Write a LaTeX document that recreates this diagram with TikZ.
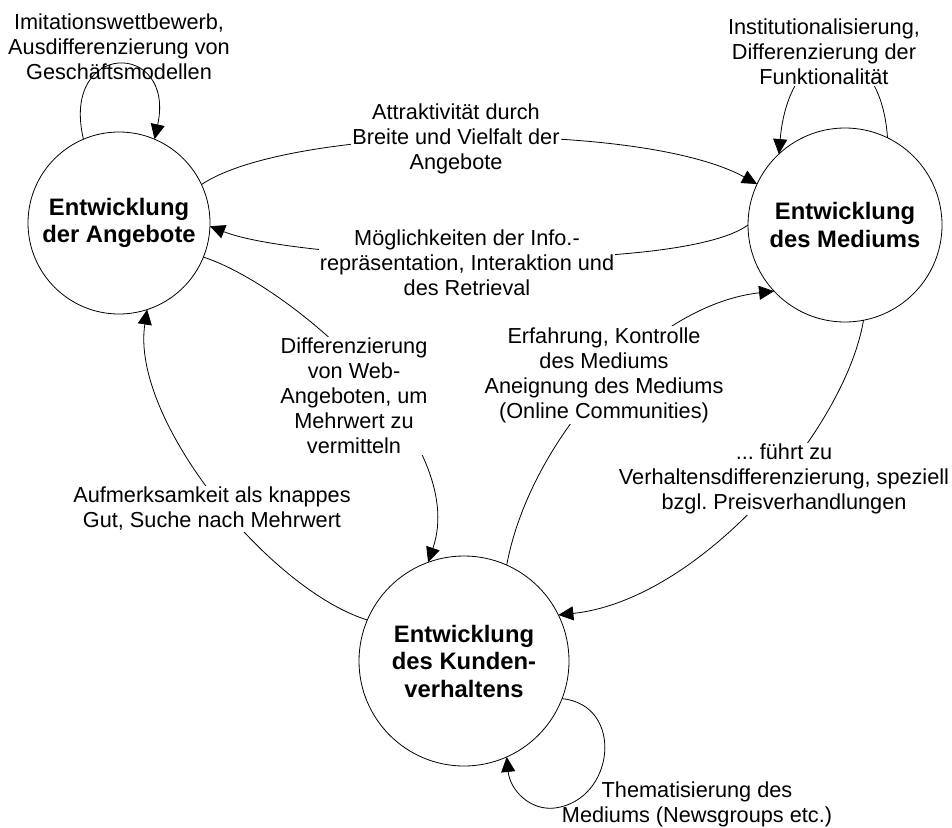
\documentclass[tikz,border=0pt]{standalone}
\usepackage{fontspec}
\setmainfont{Liberation Sans}
\usetikzlibrary{arrows.meta}
\frenchspacing
\begin{document}
\begin{tikzpicture}[x=1pt,y=-1pt,
  state/.style={circle,draw,line width=0.8pt,inner sep=0pt,outer sep=0pt,align=center,
    font=\fontsize{23.8}{27.5}\selectfont\bfseries},
  lbl/.style={align=center,font=\fontsize{21.7}{25}\selectfont\frenchspacing,inner sep=1pt},
  lblw/.style={lbl,fill=white},
  conn/.style={line width=0.8pt,-{Triangle[length=15pt,width=14pt]}}
]
\useasboundingbox (0,0) rectangle (952,827);

% states
\node[state,minimum size=182pt] (L) at (119,223) {Entwicklung\\der Angebote};
\node[state,minimum size=194pt] (R) at (845,225) {Entwicklung\\des Mediums};
\node[state,minimum size=210pt] (B) at (464,661) {Entwicklung\\des Kunden-\\verhaltens};

% connectors
\draw[conn] (L.113) .. controls (60,40) and (176,40) .. (L.67);
\draw[conn] (R.64) .. controls (880,30) and (790,30) .. (R.133);
\draw[conn] (B.-21) .. controls (625,705) and (615,800) .. (555,808)
            .. controls (530,811) and (510,790) .. (B.-66);
\draw[conn] (L.25) .. controls (290,125) and (640,120) .. (R.155);
\draw[conn] (R.180) .. controls (680,275) and (300,262) .. (L.-2);
\draw[conn] (L.-22) .. controls (290,285) and (470,440) .. (B.110);
\draw[conn] (B.157) .. controls (270,590) and (130,420) .. (L.-72);
\draw[conn] (B.66) .. controls (530,440) and (650,305) .. (R.-137);
\draw[conn] (R.-79) .. controls (845,430) and (700,600) .. (B.26);

% labels
\node[lbl]  (tL) at (119,47)  {Imitationswettbewerb,\\Ausdifferenzierung von\\Geschäftsmodellen};
\node[lblw] (tR) at (824,52)  {Institutionalisierung,\\Differenzierung der\\Funktionalität};
\node[lblw] (tA) at (456,139) {Attraktivität durch\\Breite und Vielfalt der\\Angebote};
\node[lblw] (tM) at (467,263) {Möglichkeiten der Info.-\\repräsentation, Interaktion und\\des Retrieval};
\node[lblw] (tD) at (354,396) {Differenzierung\\von Web-\\Angeboten, um\\Mehrwert zu\\vermitteln};
\node[lblw] (tE) at (604,375) {Erfahrung, Kontrolle\\des Mediums\\Aneignung des Mediums\\(Online Communities)};
\node[lblw] (tF) at (784,479) {... führt zu\\Verhaltensdifferenzierung, speziell\\bzgl. Preisverhandlungen};
\node[lblw] (tG) at (212,509) {Aufmerksamkeit als knappes\\Gut, Suche nach Mehrwert};
\node[lbl]  (tT) at (697,804) {Thematisierung des\\Mediums (Newsgroups etc.)};
\end{tikzpicture}
\end{document}
